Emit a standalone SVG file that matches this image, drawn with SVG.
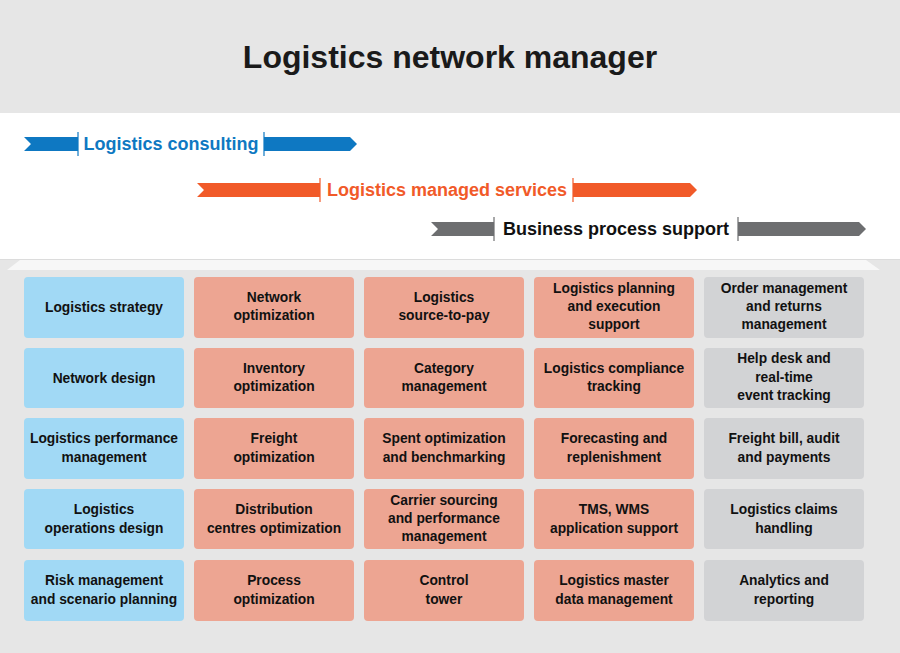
<svg xmlns="http://www.w3.org/2000/svg" width="900" height="653" viewBox="0 0 900 653">
<style>
.t{font-family:"Liberation Sans",Arial,sans-serif;font-weight:bold;font-size:13.8px;fill:#111;text-anchor:middle}
.a{font-family:"Liberation Sans",Arial,sans-serif;font-weight:bold;font-size:18px}
.b{fill:#a1d9f5}.o{fill:#eda592}.g{fill:#d2d3d5}
.div{stroke-width:1.2}
</style>
<rect x="0" y="0" width="900" height="113" fill="#e6e6e6"/>
<rect x="0" y="113" width="900" height="146" fill="#ffffff"/>
<rect x="0" y="259" width="900" height="394" fill="#e6e6e6"/>
<line x1="0" y1="259.5" x2="900" y2="259.5" stroke="#dcdcdc" stroke-width="1"/>
<polygon points="20,260 866,260 880,270 7,270" fill="#f7f7f7"/>
<text x="450" y="68" text-anchor="middle" font-family="Liberation Sans,Arial,sans-serif" font-weight="bold" font-size="32" fill="#1a1a1a">Logistics network manager</text>

<g id="bar-consulting">
<polygon points="24,137 78,137 78,151 24,151 31,144" fill="#0e78c2"/>
<line x1="78" y1="132" x2="78" y2="156" stroke="#0e78c2" class="div"/>
<text x="171" y="149.5" text-anchor="middle" class="a" fill="#0e78c2">Logistics consulting</text>
<line x1="264" y1="132" x2="264" y2="156" stroke="#0e78c2" class="div"/>
<polygon points="264,137 350,137 357,144 350,151 264,151" fill="#0e78c2"/>
</g>
<g id="bar-managed">
<polygon points="197,183 320,183 320,197 197,197 204,190" fill="#f15a29"/>
<line x1="320" y1="178" x2="320" y2="202" stroke="#f15a29" class="div"/>
<text x="447" y="195.5" text-anchor="middle" class="a" fill="#f15a29" font-size="17.6px">Logistics managed services</text>
<line x1="573" y1="178" x2="573" y2="202" stroke="#f15a29" class="div"/>
<polygon points="573,183 690,183 697,190 690,197 573,197" fill="#f15a29"/>
</g>
<g id="bar-bps">
<polygon points="431,222 494,222 494,236 431,236 438,229" fill="#6d6e70"/>
<line x1="494" y1="217" x2="494" y2="241" stroke="#6d6e70" class="div"/>
<text x="616" y="234.5" text-anchor="middle" class="a" fill="#111" font-size="17.4px">Business process support</text>
<line x1="738" y1="217" x2="738" y2="241" stroke="#6d6e70" class="div"/>
<polygon points="738,222 859,222 866,229 859,236 738,236" fill="#6d6e70"/>
</g>

<!-- Row 1 -->
<g id="n11"><rect x="24" y="277" width="160" height="61" rx="4" class="b"/><text class="t" x="104" y="312">Logistics strategy</text></g>
<g id="n12"><rect x="194" y="277" width="160" height="61" rx="4" class="o"/><text class="t" x="274" y="302">Network</text><text class="t" x="274" y="320">optimization</text></g>
<g id="n13"><rect x="364" y="277" width="160" height="61" rx="4" class="o"/><text class="t" x="444" y="302">Logistics</text><text class="t" x="444" y="320">source-to-pay</text></g>
<g id="n14"><rect x="534" y="277" width="160" height="61" rx="4" class="o"/><text class="t" x="614" y="293">Logistics planning</text><text class="t" x="614" y="311">and execution</text><text class="t" x="614" y="329">support</text></g>
<g id="n15"><rect x="704" y="277" width="160" height="61" rx="4" class="g"/><text class="t" x="784" y="293">Order management</text><text class="t" x="784" y="311">and returns</text><text class="t" x="784" y="329">management</text></g>
<!-- Row 2 -->
<g id="n21"><rect x="24" y="348" width="160" height="60" rx="4" class="b"/><text class="t" x="104" y="383">Network design</text></g>
<g id="n22"><rect x="194" y="348" width="160" height="60" rx="4" class="o"/><text class="t" x="274" y="373">Inventory</text><text class="t" x="274" y="391">optimization</text></g>
<g id="n23"><rect x="364" y="348" width="160" height="60" rx="4" class="o"/><text class="t" x="444" y="373">Category</text><text class="t" x="444" y="391">management</text></g>
<g id="n24"><rect x="534" y="348" width="160" height="60" rx="4" class="o"/><text class="t" x="614" y="373">Logistics compliance</text><text class="t" x="614" y="391">tracking</text></g>
<g id="n25"><rect x="704" y="348" width="160" height="60" rx="4" class="g"/><text class="t" x="784" y="363">Help desk and</text><text class="t" x="784" y="382">real-time</text><text class="t" x="784" y="400">event tracking</text></g>
<!-- Row 3 -->
<g id="n31"><rect x="24" y="418" width="160" height="61" rx="4" class="b"/><text class="t" x="104" y="443">Logistics performance</text><text class="t" x="104" y="462">management</text></g>
<g id="n32"><rect x="194" y="418" width="160" height="61" rx="4" class="o"/><text class="t" x="274" y="443">Freight</text><text class="t" x="274" y="462">optimization</text></g>
<g id="n33"><rect x="364" y="418" width="160" height="61" rx="4" class="o"/><text class="t" x="444" y="443">Spent optimization</text><text class="t" x="444" y="462">and benchmarking</text></g>
<g id="n34"><rect x="534" y="418" width="160" height="61" rx="4" class="o"/><text class="t" x="614" y="443">Forecasting and</text><text class="t" x="614" y="462">replenishment</text></g>
<g id="n35"><rect x="704" y="418" width="160" height="61" rx="4" class="g"/><text class="t" x="784" y="443">Freight bill, audit</text><text class="t" x="784" y="462">and payments</text></g>
<!-- Row 4 -->
<g id="n41"><rect x="24" y="489" width="160" height="60" rx="4" class="b"/><text class="t" x="104" y="514">Logistics</text><text class="t" x="104" y="533">operations design</text></g>
<g id="n42"><rect x="194" y="489" width="160" height="60" rx="4" class="o"/><text class="t" x="274" y="514">Distribution</text><text class="t" x="274" y="533">centres optimization</text></g>
<g id="n43"><rect x="364" y="489" width="160" height="60" rx="4" class="o"/><text class="t" x="444" y="505">Carrier sourcing</text><text class="t" x="444" y="523">and performance</text><text class="t" x="444" y="541">management</text></g>
<g id="n44"><rect x="534" y="489" width="160" height="60" rx="4" class="o"/><text class="t" x="614" y="514">TMS, WMS</text><text class="t" x="614" y="533">application support</text></g>
<g id="n45"><rect x="704" y="489" width="160" height="60" rx="4" class="g"/><text class="t" x="784" y="514">Logistics claims</text><text class="t" x="784" y="533">handling</text></g>
<!-- Row 5 -->
<g id="n51"><rect x="24" y="560" width="160" height="61" rx="4" class="b"/><text class="t" x="104" y="585">Risk management</text><text class="t" x="104" y="604">and scenario planning</text></g>
<g id="n52"><rect x="194" y="560" width="160" height="61" rx="4" class="o"/><text class="t" x="274" y="585">Process</text><text class="t" x="274" y="604">optimization</text></g>
<g id="n53"><rect x="364" y="560" width="160" height="61" rx="4" class="o"/><text class="t" x="444" y="585">Control</text><text class="t" x="444" y="604">tower</text></g>
<g id="n54"><rect x="534" y="560" width="160" height="61" rx="4" class="o"/><text class="t" x="614" y="585">Logistics master</text><text class="t" x="614" y="604">data management</text></g>
<g id="n55"><rect x="704" y="560" width="160" height="61" rx="4" class="g"/><text class="t" x="784" y="585">Analytics and</text><text class="t" x="784" y="604">reporting</text></g>
<g id="connectors"></g>
</svg>
